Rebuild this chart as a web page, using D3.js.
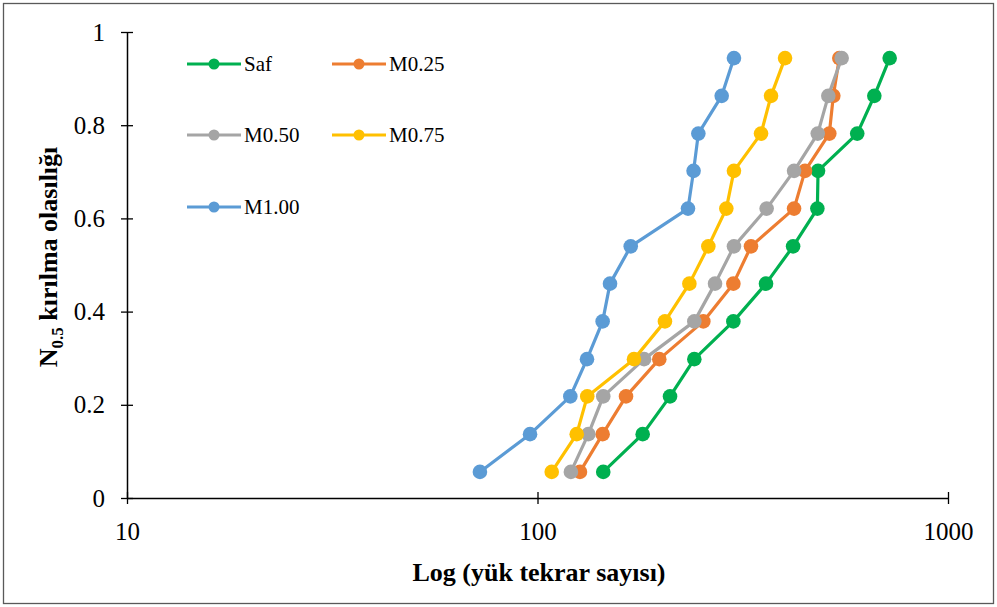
<!DOCTYPE html>
<html>
<head>
<meta charset="utf-8">
<script src="https://cdn.jsdelivr.net/npm/d3@7"></script>
<style>
  body { margin: 0; background: #fff; }
  svg { display: block; }
  text { font-family: "Liberation Serif", "Times New Roman", serif; }
</style>
</head>
<body>
<svg id="chart" width="997" height="607"></svg>
<script>
// probability levels (y values, same for every series)
const probs = [0.056, 0.137, 0.218, 0.298, 0.379, 0.460, 0.540, 0.621, 0.702, 0.782, 0.863, 0.944];

// cycles to failure per series
const safVals  = [144.6, 180.4, 210.3, 241, 300, 360.3, 419.4, 480.6, 482.4, 601, 661.5, 721];
const m025Vals = [126.9, 144.1, 164.3, 198, 253.5, 300, 331.2, 421.7, 448.4, 513.9, 525.6, 543.5];
const m050Vals = [120.6, 133, 144.6, 181.8, 241, 270.7, 301, 361.6, 421.7, 481.6, 511, 550.8];
const m075Vals = [108.3, 124.6, 132.2, 171.8, 204.4, 234.4, 260.7, 288.4, 301, 350.4, 370.6, 400.9];
const m100Vals = [72.4, 95.9, 120.2, 132, 144.1, 150.2, 168.7, 232.6, 240, 246.5, 281, 301];

const seriesNames = ["Saf", "M0.25", "M0.50", "M0.75", "M1.00"];
const seriesColors = ["#00B050", "#ED7D31", "#A5A5A5", "#FFC000", "#5B9BD5"];
const seriesVals = [safVals, m025Vals, m050Vals, m075Vals, m100Vals];

const xTicks = [10, 100, 1000];
const yTicks = [0, 0.2, 0.4, 0.6, 0.8, 1];

const svg = d3.select("#chart");

// outer frame
svg.append("rect")
    .attr("x", 3.5).attr("y", 3.5)
    .attr("width", 990).attr("height", 600)
    .attr("fill", "#fff")
    .attr("stroke", "#595959")
    .attr("stroke-width", 1.3);

const x = d3.scaleLog().domain([10, 1000]).range([127, 948]);
const y = d3.scaleLinear().domain([0, 1]).range([498, 32]);

// axes
const xAxis = svg.append("g")
    .attr("transform", `translate(0,${y(0)})`)
    .call(d3.axisBottom(x).tickValues(xTicks).tickFormat(d3.format("d")).tickSize(6).tickSizeOuter(0));
xAxis.selectAll(".tick line").attr("y1", -6).attr("y2", 6);
xAxis.selectAll(".tick text").attr("dy", "0.71em").attr("y", 24);

const yAxis = svg.append("g")
    .attr("transform", `translate(${x(10)},0)`)
    .call(d3.axisLeft(y).tickValues(yTicks).tickFormat(d => d === 0 || d === 1 ? d3.format("d")(d) : d3.format(".1f")(d)).tickSize(6).tickSizeOuter(0));
yAxis.selectAll(".tick line").attr("x1", -6).attr("x2", 6);
yAxis.selectAll(".tick text").attr("x", -22);

svg.selectAll(".domain").attr("stroke", "#000").attr("stroke-width", 1.5);
svg.selectAll(".tick line").attr("stroke", "#000").attr("stroke-width", 1.3);
svg.selectAll(".tick text")
    .attr("fill", "#000")
    .style("font-family", "'Liberation Serif', serif")
    .style("font-size", "25px");

// series
const line = d3.line().x(d => x(d[0])).y(d => y(d[1]));

seriesVals.forEach((vals, i) => {
  const pts = vals.map((v, j) => [v, probs[j]]);
  const g = svg.append("g");
  g.append("path")
      .datum(pts)
      .attr("d", line)
      .attr("fill", "none")
      .attr("stroke", seriesColors[i])
      .attr("stroke-width", 3.2)
      .attr("stroke-linejoin", "round");
  g.selectAll("circle")
      .data(pts)
      .join("circle")
      .attr("cx", d => x(d[0]))
      .attr("cy", d => y(d[1]))
      .attr("r", 7.3)
      .attr("fill", seriesColors[i]);
});

// legend
const legendPos = [[187, 64], [332, 64], [187, 135], [332, 135], [187, 207]];
seriesNames.forEach((name, i) => {
  const [lx, ly] = legendPos[i];
  const g = svg.append("g").attr("transform", `translate(${lx},${ly})`);
  g.append("line")
      .attr("x1", 0).attr("x2", 54)
      .attr("stroke", seriesColors[i])
      .attr("stroke-width", 3.2);
  g.append("circle")
      .attr("cx", 27).attr("r", 5.5)
      .attr("fill", seriesColors[i]);
  g.append("text")
      .attr("x", 57).attr("y", 7)
      .attr("font-size", 21)
      .text(name);
});

// axis titles
svg.append("text")
    .attr("x", 539).attr("y", 581)
    .attr("text-anchor", "middle")
    .attr("font-size", 26)
    .attr("font-weight", "bold")
    .text("Log (yük tekrar sayısı)");

const yTitle = svg.append("text")
    .attr("transform", "translate(57,257) rotate(-90)")
    .attr("text-anchor", "middle")
    .attr("font-size", 26)
    .attr("font-weight", "bold");
yTitle.append("tspan").text("N");
yTitle.append("tspan").attr("font-size", 17).attr("dy", 6).text("0.5");
yTitle.append("tspan").attr("dy", -6).text(" kırılma olasılığı");
</script>
</body>
</html>
